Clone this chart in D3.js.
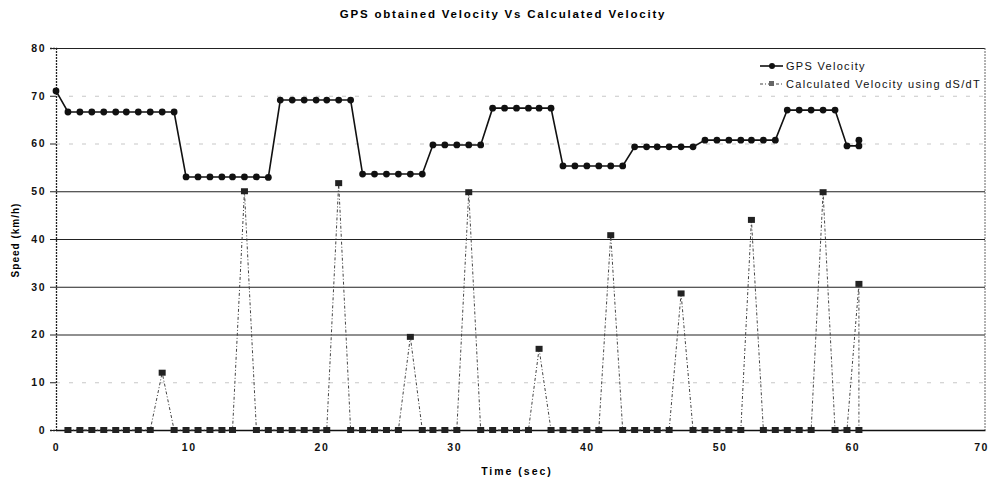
<!DOCTYPE html>
<html>
<meta charset="utf-8">
<script src="https://d3js.org/d3.v7.min.js"></script>
<style>
  body { margin: 0; background: #fff; }
  text { font-family: "Liberation Sans", Arial, sans-serif; }
</style>
<body>
<script>

// time stamps (sec) - last sample is repeated
var timeSec = [
  0, 0.9, 1.8, 2.7, 3.6, 4.5, 5.3, 6.2, 7.1, 8.0,
  8.9, 9.8, 10.7, 11.6, 12.5, 13.3, 14.2, 15.1, 16.0, 16.9,
  17.8, 18.7, 19.6, 20.4, 21.3, 22.2, 23.1, 24.0, 24.9, 25.8,
  26.7, 27.6, 28.4, 29.3, 30.2, 31.1, 32.0, 32.9, 33.8, 34.7,
  35.6, 36.4, 37.3, 38.2, 39.1, 40.0, 40.9, 41.8, 42.7, 43.6,
  44.5, 45.3, 46.2, 47.1, 48.0, 48.9, 49.8, 50.7, 51.6, 52.4,
  53.3, 54.2, 55.1, 56.0, 56.9, 57.8, 58.7, 59.6, 60.5, 60.5
];

var gpsVelocity = [
  71.0, 66.6, 66.6, 66.6, 66.6, 66.6, 66.6, 66.6, 66.6, 66.6,
  66.6, 53.0, 53.0, 53.0, 53.0, 53.0, 53.0, 53.0, 52.9, 69.1,
  69.1, 69.1, 69.1, 69.1, 69.1, 69.1, 53.6, 53.6, 53.6, 53.6,
  53.6, 53.6, 59.7, 59.7, 59.7, 59.7, 59.7, 67.4, 67.4, 67.4,
  67.4, 67.4, 67.4, 55.3, 55.3, 55.3, 55.3, 55.3, 55.3, 59.3,
  59.3, 59.3, 59.3, 59.3, 59.3, 60.7, 60.7, 60.7, 60.7, 60.7,
  60.7, 60.7, 67.0, 67.0, 67.0, 67.0, 67.0, 59.5, 59.5, 60.7
];

var calcVelocity = [
  null, 0, 0, 0, 0, 0, 0, 0, 0, 12.0,
  0, 0, 0, 0, 0, 0, 50.0, 0, 0, 0,
  0, 0, 0, 0, 51.7, 0, 0, 0, 0, 0,
  19.5, 0, 0, 0, 0, 49.8, 0, 0, 0, 0,
  0, 17.0, 0, 0, 0, 0, 0, 40.8, 0, 0,
  0, 0, 0, 28.6, 0, 0, 0, 0, 0, 44.0,
  0, 0, 0, 0, 0, 49.8, 0, 0, 30.6, 0
];

var xTicks = [0, 10, 20, 30, 40, 50, 60, 70];
var yTicks = [0, 10, 20, 30, 40, 50, 60, 70, 80];
var seriesNames = ["GPS Velocity", "Calculated Velocity using dS/dT"];

var box = ({left: 56, right: 985, top: 48, bottom: 430});

var svg = d3.select("body").append("svg")
  .attr("width", 990)
  .attr("height", 485);

var x = d3.scaleLinear().domain([0, 70]).range([box.left, box.right]);
var y = d3.scaleLinear().domain([0, 80]).range([box.bottom, box.top]);

// gridlines
var grid = svg.append("g")
  .attr("transform", `translate(${box.left},0)`)
  .call(d3.axisLeft(y).tickValues(yTicks).tickSize(-(box.right - box.left)).tickFormat(""));
grid.select(".domain").remove();
grid.selectAll("line")
  .attr("stroke", function(d) { return (d == 10 || d == 60 || d == 70) ? "#c8c8c8" : "#222"; })
  .attr("stroke-dasharray", function(d) { return (d == 10 || d == 60 || d == 70) ? "4,9" : null; })
  .attr("stroke-width", function(d) { return d == 0 ? 0 : 1.1; });

// right border
svg.append("line")
  .attr("x1", box.right).attr("x2", box.right)
  .attr("y1", box.top).attr("y2", box.bottom)
  .attr("stroke", "#666").attr("stroke-dasharray", "2,1");

// y axis
var yAxis = svg.append("g")
  .attr("transform", `translate(${box.left},0)`)
  .call(d3.axisLeft(y).tickValues(yTicks).tickSize(6).tickPadding(4));
yAxis.select(".domain").attr("stroke", "#222").attr("stroke-dasharray", "2,1").attr("stroke-width", 1.3);
yAxis.selectAll(".tick line").attr("stroke", "#222");
yAxis.selectAll("text")
  .attr("font-size", 10.5).attr("font-weight", "bold").attr("letter-spacing", 1.5).attr("fill", "#111");

// x axis
var xAxis = svg.append("g")
  .attr("transform", `translate(0,${box.bottom})`)
  .call(d3.axisBottom(x).tickValues(xTicks).tickSize(0).tickPadding(14));
xAxis.select(".domain").attr("stroke", "#111").attr("stroke-width", 1.5);
xAxis.selectAll("text")
  .attr("font-size", 10.5).attr("font-weight", "bold").attr("letter-spacing", 1.5).attr("fill", "#111")
  .attr("dx", function(d) { return d == 70 ? -4 : 0; });

var gpsData = timeSec.map(function(t, i) { return {t: t, v: gpsVelocity[i]}; });
var calcData = timeSec.map(function(t, i) { return {t: t, v: calcVelocity[i]}; });

var line = d3.line()
  .defined(function(d) { return d.v != null; })
  .x(function(d) { return x(d.t); })
  .y(function(d) { return y(d.v); });

// calculated velocity
svg.append("path")
  .datum(calcData)
  .attr("d", line)
  .attr("fill", "none")
  .attr("stroke", "#444")
  .attr("stroke-width", 1)
  .attr("stroke-dasharray", "3,2,1,2");

svg.selectAll(".calcpt")
  .data(calcData.filter(function(d) { return d.v != null; }))
  .enter().append("rect")
  .attr("class", "calcpt")
  .attr("x", function(d) { return x(d.t) - 3.5; })
  .attr("y", function(d) { return y(d.v) - 3; })
  .attr("width", 7)
  .attr("height", 6)
  .attr("fill", "#222");

// gps velocity
svg.append("path")
  .datum(gpsData)
  .attr("d", line)
  .attr("fill", "none")
  .attr("stroke", "#111")
  .attr("stroke-width", 1.6);

svg.selectAll(".gpspt")
  .data(gpsData)
  .enter().append("circle")
  .attr("class", "gpspt")
  .attr("cx", function(d) { return x(d.t); })
  .attr("cy", function(d) { return y(d.v); })
  .attr("r", 3.4)
  .attr("fill", "#111");

// legend
var legend = svg.append("g").attr("transform", "translate(760,0)");
legend.append("line").attr("x1", 0).attr("x2", 23).attr("y1", 66).attr("y2", 66)
  .attr("stroke", "#111").attr("stroke-width", 1.6);
legend.append("circle").attr("cx", 12).attr("cy", 66).attr("r", 3).attr("fill", "#111");
legend.append("line").attr("x1", 0).attr("x2", 23).attr("y1", 84).attr("y2", 84)
  .attr("stroke", "#444").attr("stroke-dasharray", "3,2,1,2");
legend.append("rect").attr("x", 9).attr("y", 81).attr("width", 5).attr("height", 5).attr("fill", "#666");
legend.selectAll(".ltext")
  .data(seriesNames)
  .enter().append("text")
  .attr("x", 26)
  .attr("y", function(d, i) { return 70 + i * 18; })
  .attr("font-size", 11)
  .attr("letter-spacing", 1.3)
  .attr("fill", "#111")
  .text(function(d) { return d; });

// titles
svg.append("text")
  .attr("x", 503).attr("y", 18)
  .attr("text-anchor", "middle")
  .attr("font-size", 11.5).attr("font-weight", "bold").attr("letter-spacing", 1.8)
  .text("GPS obtained Velocity Vs Calculated Velocity");

svg.append("text")
  .attr("x", 517).attr("y", 475)
  .attr("text-anchor", "middle")
  .attr("font-size", 10.5).attr("font-weight", "bold").attr("letter-spacing", 2)
  .text("Time (sec)");

svg.append("text")
  .attr("transform", "translate(19,240) rotate(-90)")
  .attr("text-anchor", "middle")
  .attr("font-size", 10).attr("font-weight", "bold").attr("letter-spacing", 1)
  .text("Speed (km/h)");

</script>
</body>
</html>
